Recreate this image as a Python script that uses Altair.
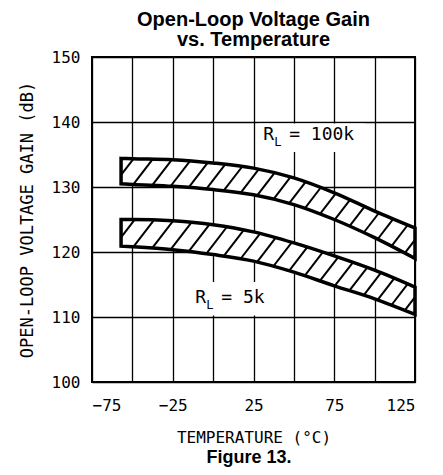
import altair as alt
import numpy as np
import pandas as pd

# ---------------- data ----------------
TEMPS = [-57, -50, -25, 0, 25, 50, 75, 100, 125]
HI_UPPER = [134.4, 134.35, 134.2, 133.7, 132.9, 131.4, 129.1, 126.3, 123.7]   # RL = 100k, top edge
HI_LOWER = [130.5, 130.4, 130.1, 129.6, 128.8, 127.3, 125.0, 122.2, 119.0]    # RL = 100k, bottom edge
LO_UPPER = [125.0, 125.0, 124.8, 124.2, 123.1, 121.4, 119.4, 117.2, 114.6]    # RL = 5k, top edge
LO_LOWER = [120.9, 120.8, 120.35, 119.6, 118.6, 116.9, 114.8, 112.8, 110.4]   # RL = 5k, bottom edge

X_TICKS = [-75, -50, -25, 0, 25, 50, 75, 100, 125]
Y_TICKS = [100, 110, 120, 130, 140, 150]

LABEL_NAME = ["100k", "5k"]
LABEL_TEXT = ["= 100k", "= 5k"]
LABEL_TEMP = [31, -11]
LABEL_DB = [138.0, 113.0]

# ---------------- layout ----------------
W, H = 323, 325
T_MIN, T_MAX = -75, 125
DB_MIN, DB_MAX = 100, 150
MONO = "DejaVu Sans Mono"
SANS = "Liberation Sans"

bands = pd.concat([
    pd.DataFrame({"band": "100k", "temp": TEMPS, "upper": HI_UPPER, "lower": HI_LOWER}),
    pd.DataFrame({"band": "5k", "temp": TEMPS, "upper": LO_UPPER, "lower": LO_LOWER}),
], ignore_index=True)

# ---------------- hatch texture derived from the band edges ----------------
PX_T = W / (T_MAX - T_MIN)
PX_DB = H / (DB_MAX - DB_MIN)
SLOPE = 1.3  # px up per px right


def hatch(name, temps, upper, lower):
    temps = np.asarray(temps, float)
    up = np.asarray(upper, float)
    lo = np.asarray(lower, float)
    t0, t1 = temps[0], temps[-1]
    s = np.arange(0, 80, 0.2)
    rows = []
    ta = t0 - 16
    while ta < t1:
        la = np.interp(ta, temps, lo)
        ts = ta + s / PX_T
        ds = la + SLOPE * s / PX_DB
        ok = (ts >= t0) & (ts <= t1) & (ds >= np.interp(ts, temps, lo) - 1e-6) & (ds <= np.interp(ts, temps, up))
        idx = np.nonzero(ok)[0]
        if len(idx) > 1:
            i0, i1 = idx[0], idx[-1]
            rows.append({"band": name, "x1": ts[i0], "y1": ds[i0], "x2": ts[i1], "y2": ds[i1]})
        frac = min(max((ta - t0) / (t1 - t0), 0), 1)
        ta += 11.8 - 3.8 * frac
    return rows


hatch_df = pd.DataFrame(hatch("100k", TEMPS, HI_UPPER, HI_LOWER) + hatch("5k", TEMPS, LO_UPPER, LO_LOWER))

labels = pd.DataFrame({"name": LABEL_NAME, "text": LABEL_TEXT, "lt": LABEL_TEMP, "ldb": LABEL_DB, "r": "R", "sub": "L"})

xs = alt.Scale(domain=[T_MIN, T_MAX], nice=False, zero=False)
ys = alt.Scale(domain=[DB_MIN, DB_MAX], nice=False, zero=False)

x_axis = alt.Axis(values=X_TICKS, grid=True, ticks=False, domain=False,
                  labelExpr="(datum.value % 50 == 25 || datum.value % 50 == -25) ? datum.label : ''",
                  labelFont=MONO, labelFontSize=16, labelPadding=15, labelColor="black",
                  title="TEMPERATURE (°C)", titleFont=MONO, titleFontSize=16, titleFontWeight="normal",
                  titlePadding=16, titleColor="black")
y_axis = alt.Axis(values=Y_TICKS, grid=True, ticks=False, domain=False,
                  labelFont=MONO, labelFontSize=16, labelPadding=12, labelColor="black",
                  title="OPEN-LOOP VOLTAGE GAIN (dB)", titleFont=MONO, titleFontSize=17,
                  titleFontWeight="normal", titlePadding=15, titleColor="black")


def X(field):
    return alt.X(field, scale=xs, axis=x_axis)


def Y(field):
    return alt.Y(field, scale=ys, axis=y_axis)


base_bands = alt.Chart(bands)

fill_layer = base_bands.mark_area(fill="white", interpolate="monotone").encode(
    x=X("temp:Q"), y=Y("upper:Q"), y2="lower:Q", detail="band:N",
)

box_100k = alt.Chart(labels).transform_filter("datum.name == '100k'").mark_rect(
    color="white", xOffset=-5, x2Offset=102, yOffset=-11.5, y2Offset=17).encode(
    x=X("lt:Q"), x2="lt:Q", y=Y("ldb:Q"), y2="ldb:Q")

box_5k = alt.Chart(labels).transform_filter("datum.name == '5k'").mark_rect(
    color="white", xOffset=-10, x2Offset=80, yOffset=-15.5, y2Offset=18).encode(
    x=X("lt:Q"), x2="lt:Q", y=Y("ldb:Q"), y2="ldb:Q")

hatch_layer = alt.Chart(hatch_df).mark_rule(color="black", strokeWidth=2).encode(
    x=X("x1:Q"), x2="x2:Q", y=Y("y1:Q"), y2="y2:Q",
)

outline_layer = base_bands.mark_area(fillOpacity=0, stroke="black", strokeWidth=3.5,
                                     interpolate="monotone", strokeJoin="miter").encode(
    x=X("temp:Q"), y=Y("upper:Q"), y2="lower:Q", detail="band:N",
)

lab = alt.Chart(labels).encode(x=X("lt:Q"), y=Y("ldb:Q"))
r_text = lab.mark_text(font=MONO, fontSize=18, align="left", baseline="middle", color="black").encode(text="r:N")
l_text = lab.mark_text(font=MONO, fontSize=12, align="left", baseline="middle", dx=11, dy=7,
                       color="black").encode(text="sub:N")
v_text = lab.mark_text(font=MONO, fontSize=18, align="left", baseline="middle", dx=26,
                       color="black").encode(text="text:N")

fig_text = alt.Chart(pd.DataFrame({"t": ["Figure 13."]})).mark_text(
    font=SANS, fontSize=18, fontWeight="bold", align="center", baseline="alphabetic", color="black"
).encode(x=alt.value(157), y=alt.value(406), text="t:N")

chart = alt.layer(
    fill_layer, box_100k, box_5k, hatch_layer, outline_layer, r_text, l_text, v_text, fig_text
).properties(
    width=W, height=H,
    title=alt.TitleParams(["Open-Loop Voltage Gain", "vs. Temperature"], font=SANS, fontSize=20,
                          fontWeight="bold", color="black", anchor="middle", baseline="bottom",
                          lineHeight=20, offset=-21),
    autosize=alt.AutoSizeParams(type="none"),
    padding={"left": 84, "top": 49, "right": 20, "bottom": 85},
).configure_view(stroke="black", strokeWidth=2).configure_axis(gridColor="black", gridWidth=1.3, gridOpacity=1)

chart.save("out.html", embed_options={"renderer": "svg", "actions": False})
